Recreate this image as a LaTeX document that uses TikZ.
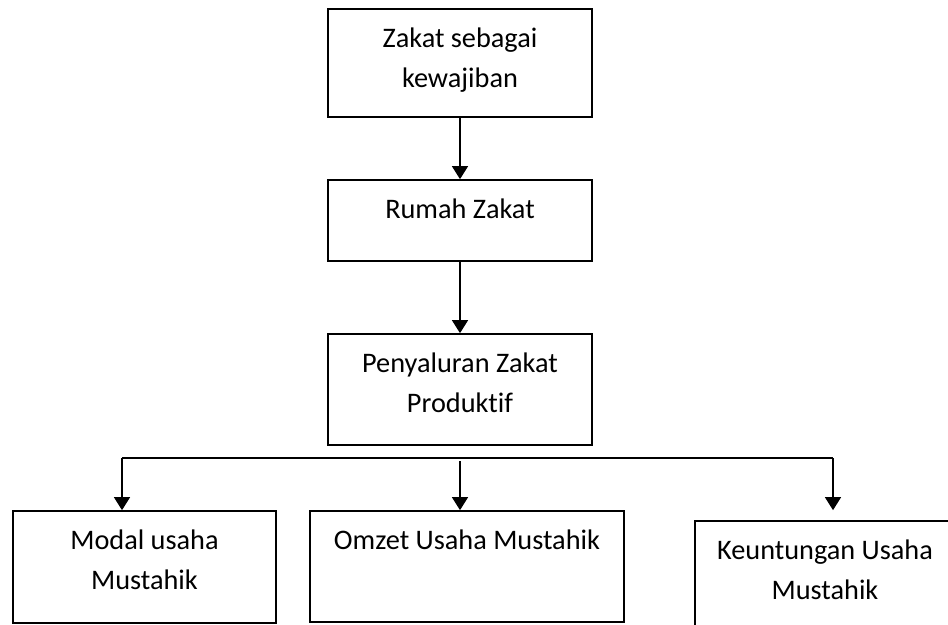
\documentclass[tikz,border=0pt]{standalone}
\usepackage{fontspec}
\setmainfont{Carlito}[Ligatures=NoCommon]
\usepackage{tikz}
\usetikzlibrary{arrows.meta,positioning,calc}

\begin{document}
\begin{tikzpicture}[
    x=1pt, y=-1pt,
    >={Triangle[width=16pt,length=13pt]},
    box/.style={draw, line width=1.7pt, inner sep=0pt, align=center,
        text height=38pt, font=\fontsize{28.3}{40}\selectfont},
    twoline/.style={text height=78pt},
    arr/.style={->, line width=1.4pt},
    bar/.style={line width=1.7pt}
]
    \useasboundingbox (0,0) rectangle (948,624);

    \node[box, twoline, minimum width=264pt, text depth=30pt] (zakat) at (460,63) {Zakat sebagai\\kewajiban};
    \node[box, minimum width=264pt, text depth=43pt] (rumah) at (460,220.5) {Rumah Zakat};
    \node[box, twoline, minimum width=264pt, text depth=33pt] (salur) at (460,389.5) {Penyaluran Zakat\\Produktif};

    \node[box, twoline, minimum width=263pt, text depth=34pt] (modal) at (144.5,567) {Modal usaha\\Mustahik};
    \node[box, minimum width=314pt, text depth=73pt] (omzet) at (467,566.5) {Omzet Usaha Mustahik};
    \node[box, twoline, minimum width=260pt, text depth=34pt] (untung) at (825,577) {Keuntungan Usaha\\Mustahik};

    \coordinate (b1) at (122,458);
    \coordinate (b2) at (460,458);
    \coordinate (b3) at (833,458);

    \draw[arr] (zakat) -- (rumah);
    \draw[arr] (rumah) -- (salur);
    \draw[bar] (b1) -- (b3);
    \draw[arr] (b1) -- (b1 |- modal.north);
    \draw[arr, shorten <=3pt] (b2) -- (b2 |- omzet.north);
    \draw[arr, shorten >=10pt] (b3) -- (b3 |- untung.north);
\end{tikzpicture}
\end{document}
